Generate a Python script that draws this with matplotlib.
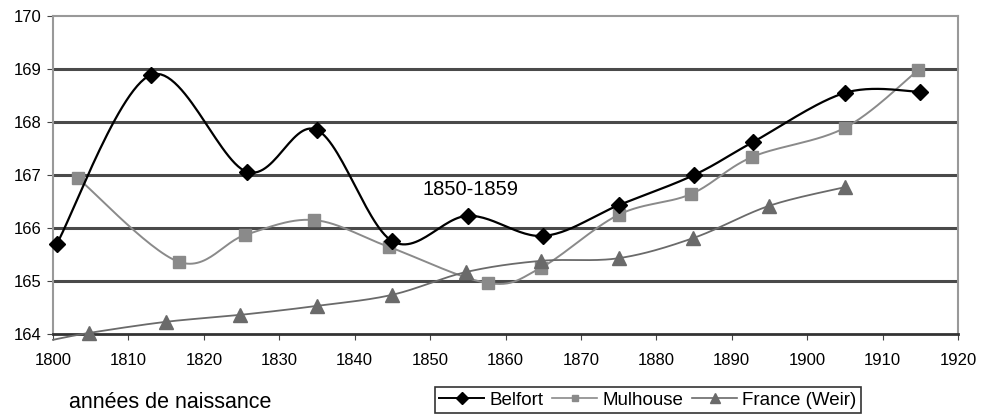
import numpy as np
import matplotlib.pyplot as plt

annees_belfort = [1800.5, 1813, 1825.7, 1835, 1845, 1855, 1865, 1875, 1885, 1892.8, 1905, 1915]
belfort = [165.70, 168.89, 167.06, 167.85, 165.75, 166.23, 165.85, 166.43, 167.0, 167.62, 168.55, 168.57]

annees_mulhouse = [1803.3, 1816.7, 1825.5, 1834.6, 1844.6, 1857.7, 1864.7, 1875, 1884.6, 1892.7, 1905, 1914.7]
mulhouse = [166.94, 165.36, 165.87, 166.15, 165.64, 164.96, 165.25, 166.25, 166.64, 167.34, 167.89, 168.98]

annees_france = [1800, 1804.8, 1815, 1824.8, 1835, 1845, 1854.8, 1864.7, 1875, 1884.9, 1895, 1905]
france = [163.89, 164.02, 164.23, 164.36, 164.53, 164.74, 165.17, 165.38, 165.43, 165.81, 166.42, 166.77]


def lisser(x, y, n=30):
    # courbe lissee type Excel (Bezier / Catmull-Rom)
    x = np.asarray(x, float)
    y = np.asarray(y, float)
    px, py = [], []
    for i in range(len(x) - 1):
        x0, y0 = (x[i - 1], y[i - 1]) if i > 0 else (x[i], y[i])
        x3, y3 = (x[i + 2], y[i + 2]) if i + 2 < len(x) else (x[i + 1], y[i + 1])
        c1x = x[i] + (x[i + 1] - x0) / 6
        c1y = y[i] + (y[i + 1] - y0) / 6
        c2x = x[i + 1] - (x3 - x[i]) / 6
        c2y = y[i + 1] - (y3 - y[i]) / 6
        t = np.linspace(0, 1, n)
        bx = (1 - t) ** 3 * x[i] + 3 * (1 - t) ** 2 * t * c1x + 3 * (1 - t) * t ** 2 * c2x + t ** 3 * x[i + 1]
        by = (1 - t) ** 3 * y[i] + 3 * (1 - t) ** 2 * t * c1y + 3 * (1 - t) * t ** 2 * c2y + t ** 3 * y[i + 1]
        px.extend(bx)
        py.extend(by)
    return px, py


plt.rcParams['font.family'] = ['Liberation Sans', 'DejaVu Sans']
fig = plt.figure(figsize=(9.86, 4.18), dpi=100)
ax = fig.add_axes([0.0538, 0.201, 0.9178, 0.7607])

for v in [165, 166, 167, 168, 169]:
    ax.axhline(v, color='#4a4a4a', lw=2.2, zorder=1)

gx, gy = lisser(annees_belfort, belfort)
ax.plot(gx, gy, color='black', lw=1.6, zorder=4)
ax.plot(annees_belfort, belfort, ls='none', marker='D', ms=8, color='black', zorder=5, clip_on=False)

gx, gy = lisser(annees_mulhouse, mulhouse)
ax.plot(gx, gy, color='#8a8a8a', lw=1.4, zorder=3)
ax.plot(annees_mulhouse, mulhouse, ls='none', marker='s', ms=8, color='#8a8a8a', zorder=3)

gx, gy = lisser(annees_france, france)
ax.plot(gx, gy, color='#6a6a6a', lw=1.3, zorder=3, clip_on=False)
ax.plot(annees_france[1:], france[1:], ls='none', marker='^', ms=10, color='#6a6a6a', zorder=3, clip_on=False)

# legende
ax.plot([], [], color='black', lw=1.4, marker='D', ms=6, label='Belfort')
ax.plot([], [], color='#8a8a8a', lw=1.2, marker='s', ms=4, label='Mulhouse')
ax.plot([], [], color='#6a6a6a', lw=1.2, marker='^', ms=7, label='France (Weir)')

ax.set_xlim(1800, 1920)
ax.set_ylim(164, 170)
ax.set_xticks(range(1800, 1921, 10))
ax.set_yticks(range(164, 171))
ax.tick_params(labelsize=12, length=4, color='#444444')
ax.tick_params(axis='x', pad=10)
ax.tick_params(axis='y', pad=4)
for s in ['top', 'right', 'left']:
    ax.spines[s].set_color('#999999')
    ax.spines[s].set_linewidth(1.5)
ax.spines['bottom'].set_color('#333333')
ax.spines['bottom'].set_linewidth(2)

ax.text(1855.3, 166.72, '1850-1859', fontsize=14.5, ha='center', va='center')
fig.text(0.07, 0.036, 'années de naissance', fontsize=15.5, va='center')

handles, labels = ax.get_legend_handles_labels()
leg = fig.legend(handles[-3:], labels[-3:], ncol=3, loc='center', bbox_to_anchor=(0.657, 0.043),
                 fontsize=13.5, frameon=True, fancybox=False, edgecolor='black',
                 handlelength=2.4, columnspacing=0.5, handletextpad=0.25, borderpad=0.25)
leg.get_frame().set_linewidth(1.2)

plt.savefig('out.png', dpi=100)
